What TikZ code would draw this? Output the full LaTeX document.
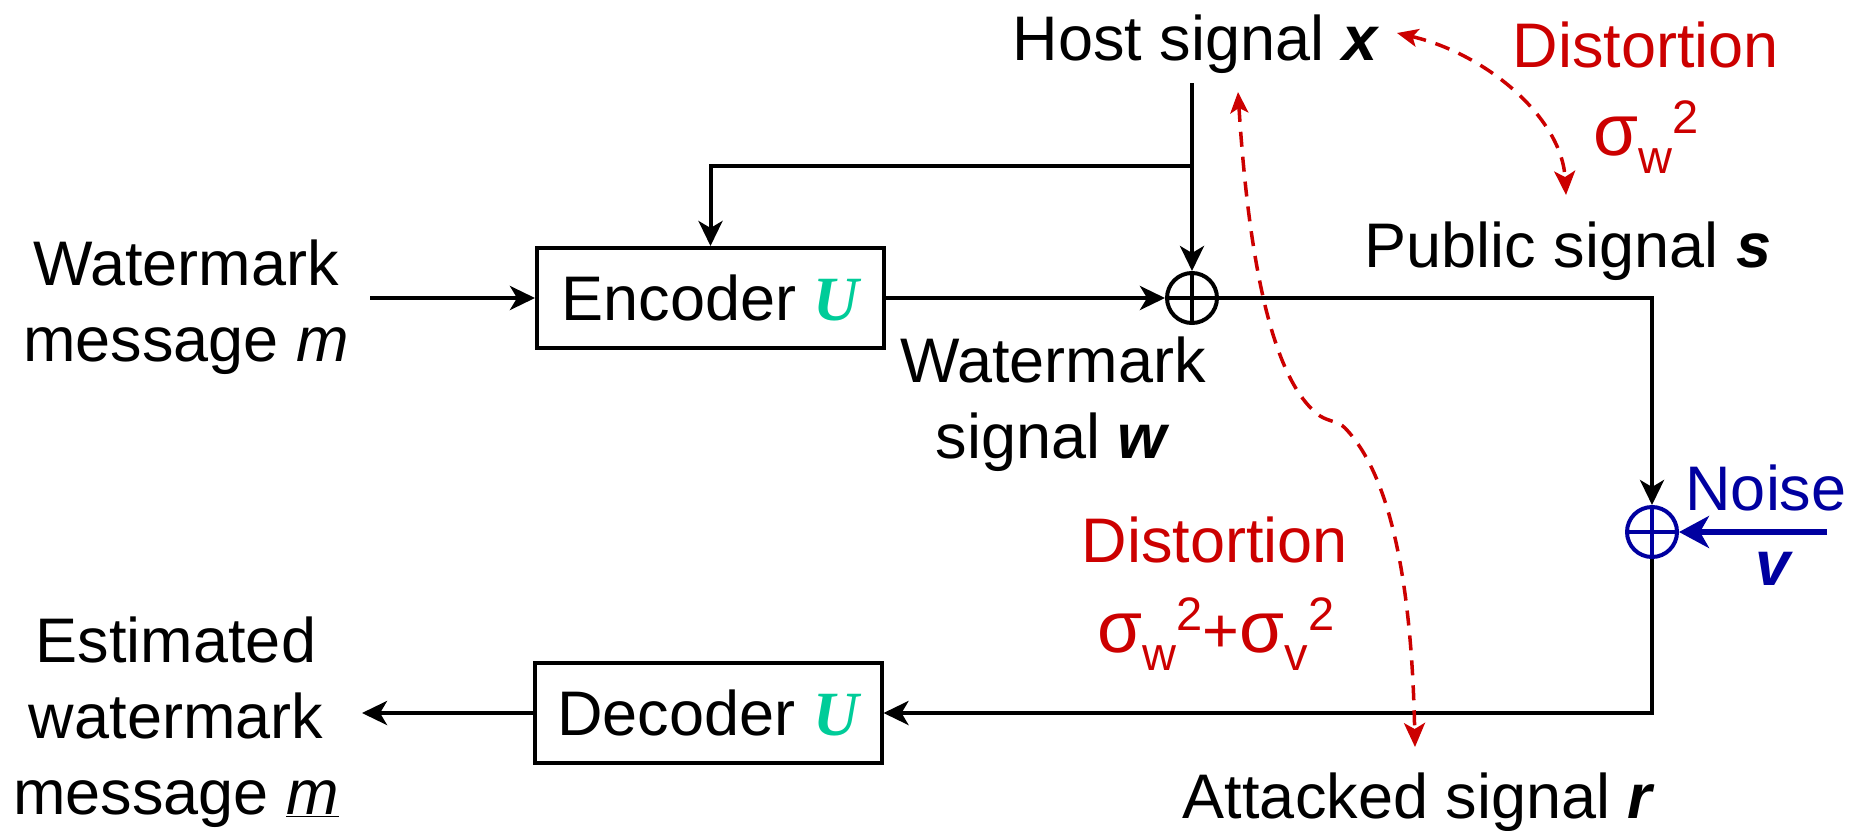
\documentclass[tikz,border=0pt]{standalone}
\usepackage{fontspec}
\setmainfont{Liberation Sans}
\newfontfamily\serifU{Liberation Serif}
\usetikzlibrary{arrows.meta}
\definecolor{dred}{RGB}{204,0,0}
\definecolor{dblue}{RGB}{0,0,160}
\definecolor{ugreen}{RGB}{0,204,153}
\newcommand{\bvec}[1]{\textbf{\textit{#1}}}
\newcommand{\Ug}{{\serifU\bfseries\itshape\color{ugreen}U}}
\newcommand{\smallsz}{\fontsize{47}{47}\selectfont}
\newcommand{\sigsub}[1]{{\fontsize{73}{73}\selectfont σ}\raisebox{-18pt}{\smallsz #1}\raisebox{22pt}{\smallsz 2}}
\begin{document}
\begin{tikzpicture}[x=1pt,y=-1pt,
  font=\fontsize{63}{76}\selectfont,
  line width=4pt,
  lbl/.style={inner sep=0pt, align=center},
  blk/.style={draw, line width=4pt, minimum width=347pt, minimum height=100pt, inner sep=0pt},
  sumnode/.style={circle, draw=#1, minimum size=50pt, inner sep=0pt, line width=4pt,
    path picture={\draw[#1, line width=4pt]
      (path picture bounding box.north) -- (path picture bounding box.south)
      (path picture bounding box.west) -- (path picture bounding box.east);}},
  sumnode/.default=black,
  arr/.style={-{Stealth[length=25pt,width=24pt,inset=7pt]}},
  noisearr/.style={dblue, line width=6pt, -{Stealth[length=30pt,width=32pt,inset=9pt]}},
  rdash/.style={dred, line width=3.5pt, dash pattern=on 15pt off 10pt,
    {Stealth[length=21pt,width=18pt,inset=5pt]}-{Stealth[length=24pt,width=21pt,inset=6pt]}}
]
\fill[white] (0,0) rectangle (1868,830);
\useasboundingbox (0,0) rectangle (1868,830);

% texts
\node[lbl, anchor=base] (host) at (1196,60) {Host signal \bvec{x}};
\node[lbl, anchor=base, text=dred] (dist1) at (1646,67) {Distortion};
\node[lbl, anchor=base, text=dred] (sig1) at (1646,155) {\sigsub{w}};
\node[lbl, anchor=base] (pub) at (1568,267) {Public signal \bvec{s}};
\node[lbl, anchor=north] (wmsg) at (186,238) {Watermark\\message \textit{m}};
\node[lbl, anchor=north] (wsig) at (1053,335) {Watermark\\signal \bvec{w}};
\node[lbl, anchor=base, text=dblue] (noise) at (1766,510) {Noise};
\node[lbl, anchor=base, text=dblue] (vsym) at (1774,585) {\bvec{v}};
\node[lbl, anchor=base, text=dred] (dist2) at (1215,562) {Distortion};
\node[lbl, anchor=base, text=dred] (sig2) at (1216,652) {\sigsub{w}+\sigsub{v}};
\node[lbl, anchor=north] (est) at (176,615) {Estimated\\watermark\\message \underline{\textit{m}}};
\node[lbl, anchor=base] (att) at (1419,818) {Attacked signal \bvec{r}};

% blocks
\node[blk] (enc) at (710.5,298) {Encoder \Ug};
\node[blk] (dec) at (708,713) {Decoder \Ug};
\node[sumnode] (sum1) at (1192,298) {};
\node[sumnode=dblue] (sum2) at (1652,532) {};

% coordinates
\coordinate (hostfoot) at (1192,83);
\coordinate (branch) at (1192,166);
\coordinate (wmstart) at (370,298);
\coordinate (estarrow) at (362,713);
\coordinate (noisestart) at (1827,532);
\coordinate (ra1) at (1397,33);
\coordinate (ra2) at (1566,195);
\coordinate (rb1) at (1238,92);
\coordinate (rb2) at (1415,747);

% connectors
\draw[arr] (hostfoot) -- (sum1.north);
\draw[arr] (branch) -| (enc.north);
\draw[arr] (wmstart) -- (enc.west);
\draw[arr] (enc.east) -- (sum1.west);
\draw[arr] (sum1.east) -| (sum2.north);
\draw[arr] (sum2.south) |- (dec.east);
\draw[arr] (dec.west) -- (estarrow);
\draw[noisearr] (noisestart) -- (sum2.east);

% red dashed distortion arrows
\draw[rdash] (ra1) .. controls (1490,55) and (1562,120) .. (ra2);
\draw[rdash] (rb1) .. controls (1248,250) and (1270,380) .. (1320,416)
  .. controls (1330,422) and (1338,421) .. (1345,428)
  .. controls (1395,480) and (1412,600) .. (rb2);
\end{tikzpicture}
\end{document}
